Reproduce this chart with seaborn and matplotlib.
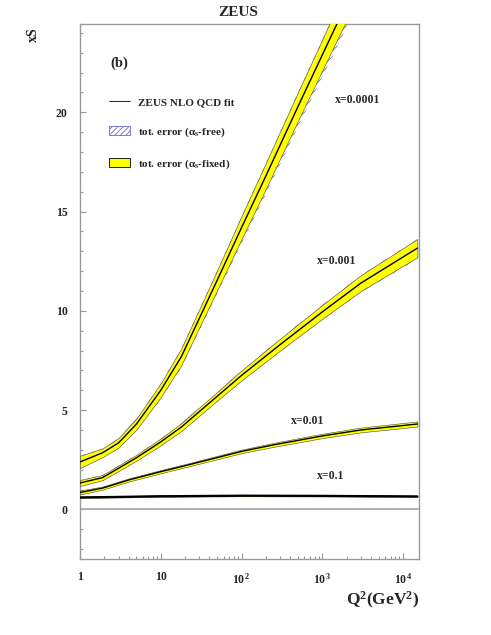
import numpy as np
import matplotlib
matplotlib.use('Agg')
import matplotlib.pyplot as plt
import seaborn as sns
from matplotlib.lines import Line2D
from matplotlib.patches import Patch
from matplotlib.ticker import MultipleLocator, LogLocator, NullFormatter, FixedLocator, FixedFormatter

# Data (xS vs Q^2)
q2_x1e4 = [1, 1.9, 3, 5, 10, 18, 50, 100, 200, 500, 1000, 2000]
xs_x1e4 = [2.39, 2.85, 3.35, 4.3, 6.0, 7.7, 11.55, 14.2, 16.8, 20.3, 22.9, 25.5]
err_x1e4 = [0.31, 0.22, 0.24, 0.28, 0.35, 0.42, 0.5, 0.58, 0.65, 0.72, 0.78, 0.85]
free_x1e4 = [0.0, 0.0, 0.02, 0.05, 0.1, 0.15, 0.2, 0.24, 0.28, 0.32, 0.35, 0.38]

q2_x1e3 = [1, 1.9, 5, 10, 18, 50, 100, 300, 1000, 3000, 15000]
xs_x1e3 = [1.33, 1.6, 2.6, 3.4, 4.15, 5.7, 6.75, 8.3, 9.95, 11.4, 13.16]
err_x1e3 = [0.15, 0.13, 0.15, 0.17, 0.2, 0.22, 0.25, 0.3, 0.35, 0.4, 0.46]
free_x1e3 = [0.0, 0.0, 0.0, 0.02, 0.03, 0.04, 0.05, 0.06, 0.07, 0.08, 0.1]

q2_x1e2 = [1, 1.9, 4, 10, 20, 100, 250, 1000, 3000, 15000]
xs_x1e2 = [0.85, 1.07, 1.48, 1.9, 2.2, 2.92, 3.25, 3.7, 4.0, 4.3]
err_x1e2 = [0.1, 0.08, 0.08, 0.08, 0.08, 0.09, 0.1, 0.11, 0.12, 0.13]

q2_x1e1 = [1, 10, 100, 1000, 15000]
xs_x1e1 = [0.6, 0.66, 0.69, 0.68, 0.65]
err_x1e1 = [0.03, 0.03, 0.03, 0.03, 0.03]

curve_labels = ['x=0.0001', 'x=0.001', 'x=0.01', 'x=0.1']
label_pos_q2 = [2755, 1515, 654, 1277]
label_pos_xs = [20.63, 12.52, 4.43, 1.70]

x_tick_vals = [1, 10, 100, 1000, 10000]
x_tick_text = ['1', '10', r'$10^{\,2}$', r'$10^{\,3}$', r'$10^{\,4}$']

sns.set_theme(style='white')
plt.rcParams['font.family'] = ['Liberation Serif', 'DejaVu Serif']
plt.rcParams['font.weight'] = 'bold'
plt.rcParams['mathtext.fontset'] = 'custom'
plt.rcParams['mathtext.rm'] = 'Liberation Serif:bold'
plt.rcParams['mathtext.it'] = 'Liberation Serif:bold'
plt.rcParams['mathtext.bf'] = 'Liberation Serif:bold'
plt.rcParams['hatch.linewidth'] = 0.6

fig = plt.figure(figsize=(4.91, 6.35), dpi=100)
ax = fig.add_axes([80 / 491, 1 - 559 / 635, 339 / 491, 535 / 635])
ax.set_xscale('log')

yellow = '#ffff00'
hatch_col = '#6a6ad0'
edge_col = '#444444'

bands = [
    (q2_x1e4, xs_x1e4, err_x1e4, free_x1e4),
    (q2_x1e3, xs_x1e3, err_x1e3, free_x1e3),
    (q2_x1e2, xs_x1e2, err_x1e2, None),
    (q2_x1e1, xs_x1e1, err_x1e1, None),
]

for q2, xs, err, free in bands:
    q2 = np.array(q2)
    xs = np.array(xs)
    err = np.array(err)
    if free is not None:
        # alpha_s-free band sticks out below the fixed one
        ax.fill_between(q2, xs - err - np.array(free), xs + err, facecolor='white',
                        edgecolor=hatch_col, hatch='//////', lw=0, zorder=2)
    ax.fill_between(q2, xs - err, xs + err, facecolor=yellow, edgecolor=edge_col,
                    lw=0.4, zorder=3)
    sns.lineplot(x=q2, y=xs, color='black', lw=1.0, ax=ax, zorder=4)

# x=0.1 line is drawn heavier in the reference
sns.lineplot(x=q2_x1e1, y=xs_x1e1, color='black', lw=1.6, ax=ax, zorder=4)

ax.axhline(0, color='#aaaaaa', lw=1.3, zorder=1)

for lab, qx, yy in zip(curve_labels, label_pos_q2, label_pos_xs):
    ax.text(qx, yy, lab, ha='center', va='center', fontsize=8.5, fontweight='bold')

ax.set_xlim(1, 1.57e4)
ax.set_ylim(-2.5, 24.45)

# axis ticks
ax.xaxis.set_major_locator(FixedLocator(x_tick_vals))
ax.xaxis.set_major_formatter(FixedFormatter(x_tick_text))
ax.xaxis.set_minor_locator(LogLocator(base=10, subs=np.arange(2, 10)))
ax.xaxis.set_minor_formatter(NullFormatter())
ax.yaxis.set_major_locator(MultipleLocator(5))
ax.yaxis.set_minor_locator(MultipleLocator(1))
ax.tick_params(which='both', direction='in', color='#999999', left=True, bottom=True,
               top=False, right=False)
ax.tick_params(which='major', length=4.5, width=0.8, labelsize=8.5, pad=9)
ax.tick_params(which='minor', length=2.5, width=0.8)

for s in ax.spines.values():
    s.set_color('#999999')
    s.set_linewidth(1.0)

ax.set_xlabel(r'Q$^{2}$(GeV$^{2}$)', fontsize=12.5, fontweight='bold', loc='right', labelpad=3)
ax.set_ylabel('xS', fontsize=10, fontweight='bold')
ax.yaxis.set_label_coords(-0.118, 0.994)
ax.yaxis.label.set_horizontalalignment('right')
ax.set_title('ZEUS', fontsize=11, fontweight='bold', x=0.466, pad=6)

ax.text(0.091, 0.927, '(b)', transform=ax.transAxes, fontsize=10.5, fontweight='bold',
        ha='left', va='center')

handles = [
    Line2D([0], [0], color='black', lw=0.6),
    Patch(facecolor='white', edgecolor=hatch_col, hatch='//////', lw=0.6),
    Patch(facecolor=yellow, edgecolor='black', lw=0.6),
]
labels = ['ZEUS NLO QCD fit', r'tot. error ($\alpha_s$-free)', r'tot. error ($\alpha_s$-fixed)']
ax.legend(handles, labels, loc='upper left', bbox_to_anchor=(0.0855, 0.864), frameon=False,
          fontsize=8, borderpad=0, borderaxespad=0, handlelength=1.9, handleheight=0.8,
          handletextpad=0.7, labelspacing=1.65)

fig.savefig('out.png', dpi=100)
